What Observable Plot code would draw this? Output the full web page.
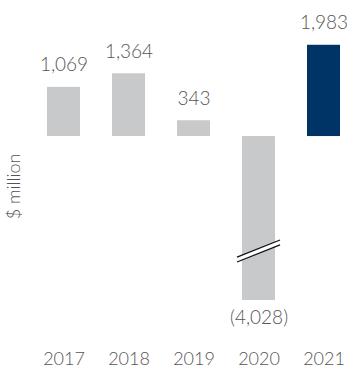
<!DOCTYPE html>
<html>
<head>
<meta charset="utf-8">
<script src="https://cdn.jsdelivr.net/npm/d3@7"></script>
<script src="https://cdn.jsdelivr.net/npm/@observablehq/plot@0.6"></script>
<style>
  html, body { margin: 0; padding: 0; background: #fff; }
  svg { display: block; }
</style>
</head>
<body>
<div id="chart"></div>
<script>
const years = ["2017", "2018", "2019", "2020", "2021"];
const values = [1069, 1364, 343, -4028, 1983];
const highlightYear = "2021";
const breakValue = -2520;     // axis break (value where the scale is compressed)
const brokenYear = "2020";
const yLabel = "$ million";

const data = years.map((year, i) => ({year, value: values[i]}));
const fmt = v => v < 0 ? `(${d3.format(",")(-v)})` : d3.format(",")(v);

const FONT = "Lato, 'Open Sans', sans-serif";

const breakMark = (index, scales, values, dimensions) => {
  const xs = scales.x;
  const bwRaw = xs.bandwidth;
  const bw = typeof bwRaw === "function" ? bwRaw() : bwRaw;
  const x0 = xs(brokenYear);
  const cx = x0 + bw / 2;
  const cy = scales.y(breakValue) - 1;
  const half = bw / 2 + 5;
  const slope = -0.4;
  const gap = 2.4;
  const g = d3.create("svg:g");
  const p = (dx, off) => [cx + dx, cy + dx * slope + off];
  const hw = bw / 2;
  g.append("path")
    .attr("d", d3.line()([p(-hw, -gap), p(hw, -gap), p(hw, gap), p(-hw, gap)]) + "Z")
    .attr("fill", "#fff");
  for (const off of [-gap, gap]) {
    g.append("path")
      .attr("d", d3.line()([p(-half, off), p(half, off)]))
      .attr("stroke", "#111")
      .attr("stroke-width", 1.3)
      .attr("fill", "none");
  }
  return g.node();
};

const chart = Plot.plot({
  width: 347,
  height: 370,
  marginLeft: 46,
  marginRight: 7,
  marginTop: 0,
  marginBottom: 22,
  style: {fontFamily: FONT, fontWeight: 300, color: "#555", background: "#fff"},
  x: {domain: years, paddingInner: 0.494, paddingOuter: 0, label: null},
  y: {type: "linear", domain: [-4028, breakValue, 2000], range: [300, 252, 44], axis: null},
  marks: [
    Plot.barY(data, {
      x: "year", y: "value",
      fill: d => d.year === highlightYear ? "#003366" : "#c8c9cb"
    }),
    breakMark,
    Plot.text(data.filter(d => d.value >= 0), {
      x: "year", y: "value", text: d => fmt(d.value),
      dy: -22, fontSize: 19, fill: "#555", fontWeight: 300
    }),
    Plot.text(data.filter(d => d.value < 0), {
      x: "year", y: "value", text: d => fmt(d.value),
      dy: 17, fontSize: 19, fill: "#555", fontWeight: 300
    }),
    Plot.text([yLabel], {
      text: d => d, frameAnchor: "left", textAnchor: "middle", rotate: -90,
      dx: -32, dy: 12, fontSize: 18, fill: "#555", fontWeight: 300
    }),
    Plot.axisX({tickSize: 0, tickPadding: 4, fontSize: 18, fill: "#555", label: null})
  ]
});
document.getElementById("chart").appendChild(chart);
</script>
</body>
</html>
